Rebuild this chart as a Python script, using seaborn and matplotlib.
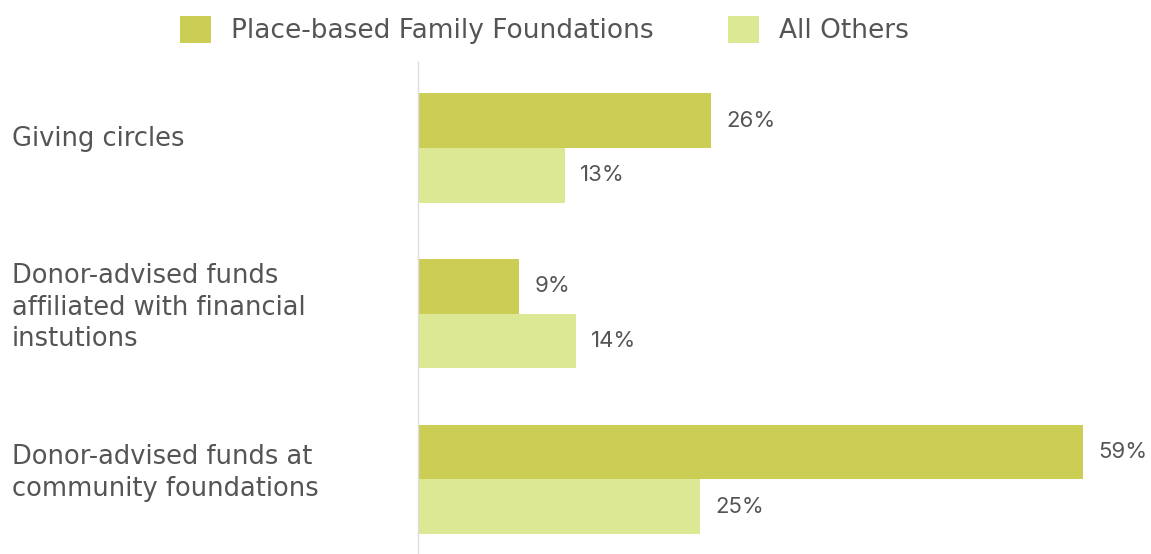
import numpy as np
import pandas as pd
import matplotlib
matplotlib.use('Agg')
import matplotlib.pyplot as plt
import matplotlib.transforms as mtransforms
import seaborn as sns

# Data
categories = ['Giving circles',
              'Donor-advised funds\naffiliated with financial\ninstutions',
              'Donor-advised funds at\ncommunity foundations']
place_based = [26, 9, 59]
all_others = [13, 14, 25]
series = ['Place-based Family Foundations', 'All Others']

df = pd.DataFrame({
    'category': categories * 2,
    'value': place_based + all_others,
    'group': [series[0]] * 3 + [series[1]] * 3,
})

sns.set_style('white')
plt.rcParams['font.family'] = ['DejaVu Sans']

colors = ['#cccd55', '#dde894']
text_color = '#555555'

fig = plt.figure(figsize=(11.51, 5.54), dpi=100)
ax = fig.add_axes([418 / 1151, 0, 1 - 418 / 1151, 1 - 62 / 554])

sns.barplot(data=df, y='category', x='value', hue='group', order=categories,
            hue_order=series, palette=colors, width=0.66, orient='h',
            saturation=1, edgecolor='none', ax=ax)

# Value labels
for cont in ax.containers:
    ax.bar_label(cont, labels=[f'{v:.0f}%' for v in cont.datavalues],
                 padding=11, fontsize=16, color=text_color,
                 family=['Inter', 'DejaVu Sans'])

ax.set_xlim(0, 65)
ax.set_ylim(2.45, -0.52)
ax.set_xlabel('')
ax.set_ylabel('')
ax.set_xticks([])

# Category labels, left aligned at the figure edge, nudged up a bit
ax.tick_params(axis='y', length=0, pad=406 * 72 / 100, labelsize=18.5,
               labelcolor=text_color)
shift = mtransforms.ScaledTranslation(0, 12 / 100, fig.dpi_scale_trans)
for lbl in ax.get_yticklabels():
    lbl.set_ha('left')
    lbl.set_linespacing(1.28)
    lbl.set_transform(lbl.get_transform() + shift)

for s in ['top', 'right', 'bottom']:
    ax.spines[s].set_visible(False)
ax.spines['left'].set_color('#dddddd')
ax.spines['left'].set_linewidth(1)

# Legend on top
handles, labels = ax.get_legend_handles_labels()
ax.get_legend().remove()
fig.legend(handles, labels, loc='center', bbox_to_anchor=(0.473, 0.946),
           ncol=2, frameon=False, fontsize=19, labelcolor=text_color,
           handlelength=1.2, handleheight=1.2, handletextpad=0.75,
           columnspacing=2.8)

fig.savefig('out.png', dpi=100)
